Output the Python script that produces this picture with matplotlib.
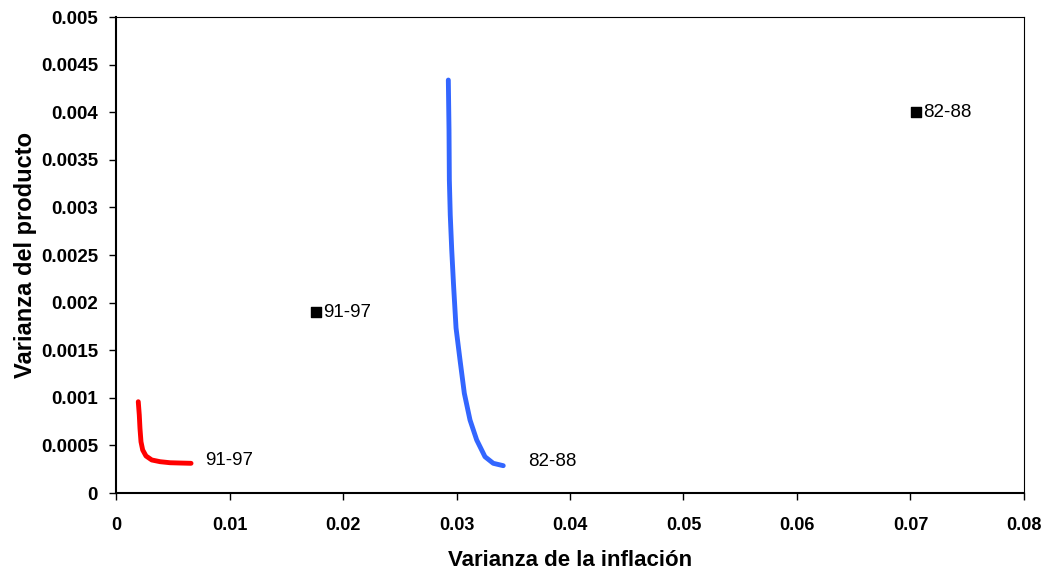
import matplotlib
matplotlib.use("Agg")
import matplotlib.pyplot as plt

# Frontier 91-97 (red)
red_x = [0.00196, 0.00205, 0.00211, 0.00220, 0.00235, 0.00264, 0.00315, 0.00388, 0.00476, 0.00564, 0.00661]
red_y = [0.000959, 0.000819, 0.000679, 0.000538, 0.000452, 0.000389, 0.000347, 0.000329, 0.000318, 0.000315, 0.000312]
# Frontier 82-88 (blue)
blue_x = [0.02928, 0.02934, 0.02937, 0.02945, 0.02958, 0.02974, 0.02996, 0.03031, 0.03069, 0.03119, 0.03178, 0.03251, 0.03324, 0.03412]
blue_y = [0.004338, 0.003813, 0.003288, 0.002920, 0.002553, 0.002185, 0.001733, 0.001397, 0.001047, 0.000767, 0.000557, 0.000381, 0.000312, 0.000287]
# Observed points
pt_x = [0.0176, 0.0705]
pt_y = [0.0019, 0.0040]
pt_labels = ["91-97", "82-88"]
curve_labels = ["91-97", "82-88"]

plt.rcParams['font.family'] = ['Liberation Sans', 'DejaVu Sans']

fig = plt.figure(figsize=(10.5, 5.73), dpi=100)
ax = fig.add_axes([0.1105, 0.1396, 0.8647, 0.8307])

ax.plot(red_x, red_y, color='#ff0000', lw=3.5, solid_capstyle='round', solid_joinstyle='round')
ax.plot(blue_x, blue_y, color='#3366ff', lw=3.5, solid_capstyle='round', solid_joinstyle='round')
ax.scatter(pt_x, pt_y, marker='s', s=60, color='black', zorder=3)

for x, y, t in zip(pt_x, pt_y, pt_labels):
    ax.annotate(t, (x, y), xytext=(5, 0), textcoords='offset points',
                va='center', ha='left', fontsize=13.5)
ax.annotate(curve_labels[0], (red_x[-1], red_y[-1]), xytext=(10, 2), textcoords='offset points',
            va='center', ha='left', fontsize=13.5)
ax.annotate(curve_labels[1], (blue_x[-1], blue_y[-1]), xytext=(18, 3), textcoords='offset points',
            va='center', ha='left', fontsize=13.5)

ax.set_xlim(0, 0.08)
ax.set_ylim(0, 0.005)
xt = [0, 0.01, 0.02, 0.03, 0.04, 0.05, 0.06, 0.07, 0.08]
yt = [0, 0.0005, 0.001, 0.0015, 0.002, 0.0025, 0.003, 0.0035, 0.004, 0.0045, 0.005]
ax.set_xticks(xt)
ax.set_xticklabels(['0', '0.01', '0.02', '0.03', '0.04', '0.05', '0.06', '0.07', '0.08'])
ax.set_yticks(yt)
ax.set_yticklabels(['0', '0.0005', '0.001', '0.0015', '0.002', '0.0025', '0.003', '0.0035', '0.004', '0.0045', '0.005'])
for lab in ax.get_xticklabels():
    lab.set_fontweight('bold')
    lab.set_fontsize(13)
for lab in ax.get_yticklabels():
    lab.set_fontweight('bold')
    lab.set_fontsize(13.5)
ax.tick_params(direction='out', length=5, width=1, pad=8, colors='black')
ax.tick_params(axis='x', pad=12)

for s in ['left', 'bottom']:
    ax.spines[s].set_linewidth(1.5)
for s in ['top', 'right']:
    ax.spines[s].set_linewidth(0.8)

ax.set_xlabel('Varianza de la inflación', fontsize=16, fontweight='bold', labelpad=12)
ax.set_ylabel('Varianza del producto', fontsize=17, fontweight='bold', labelpad=3)

fig.savefig('out.png', dpi=100)
